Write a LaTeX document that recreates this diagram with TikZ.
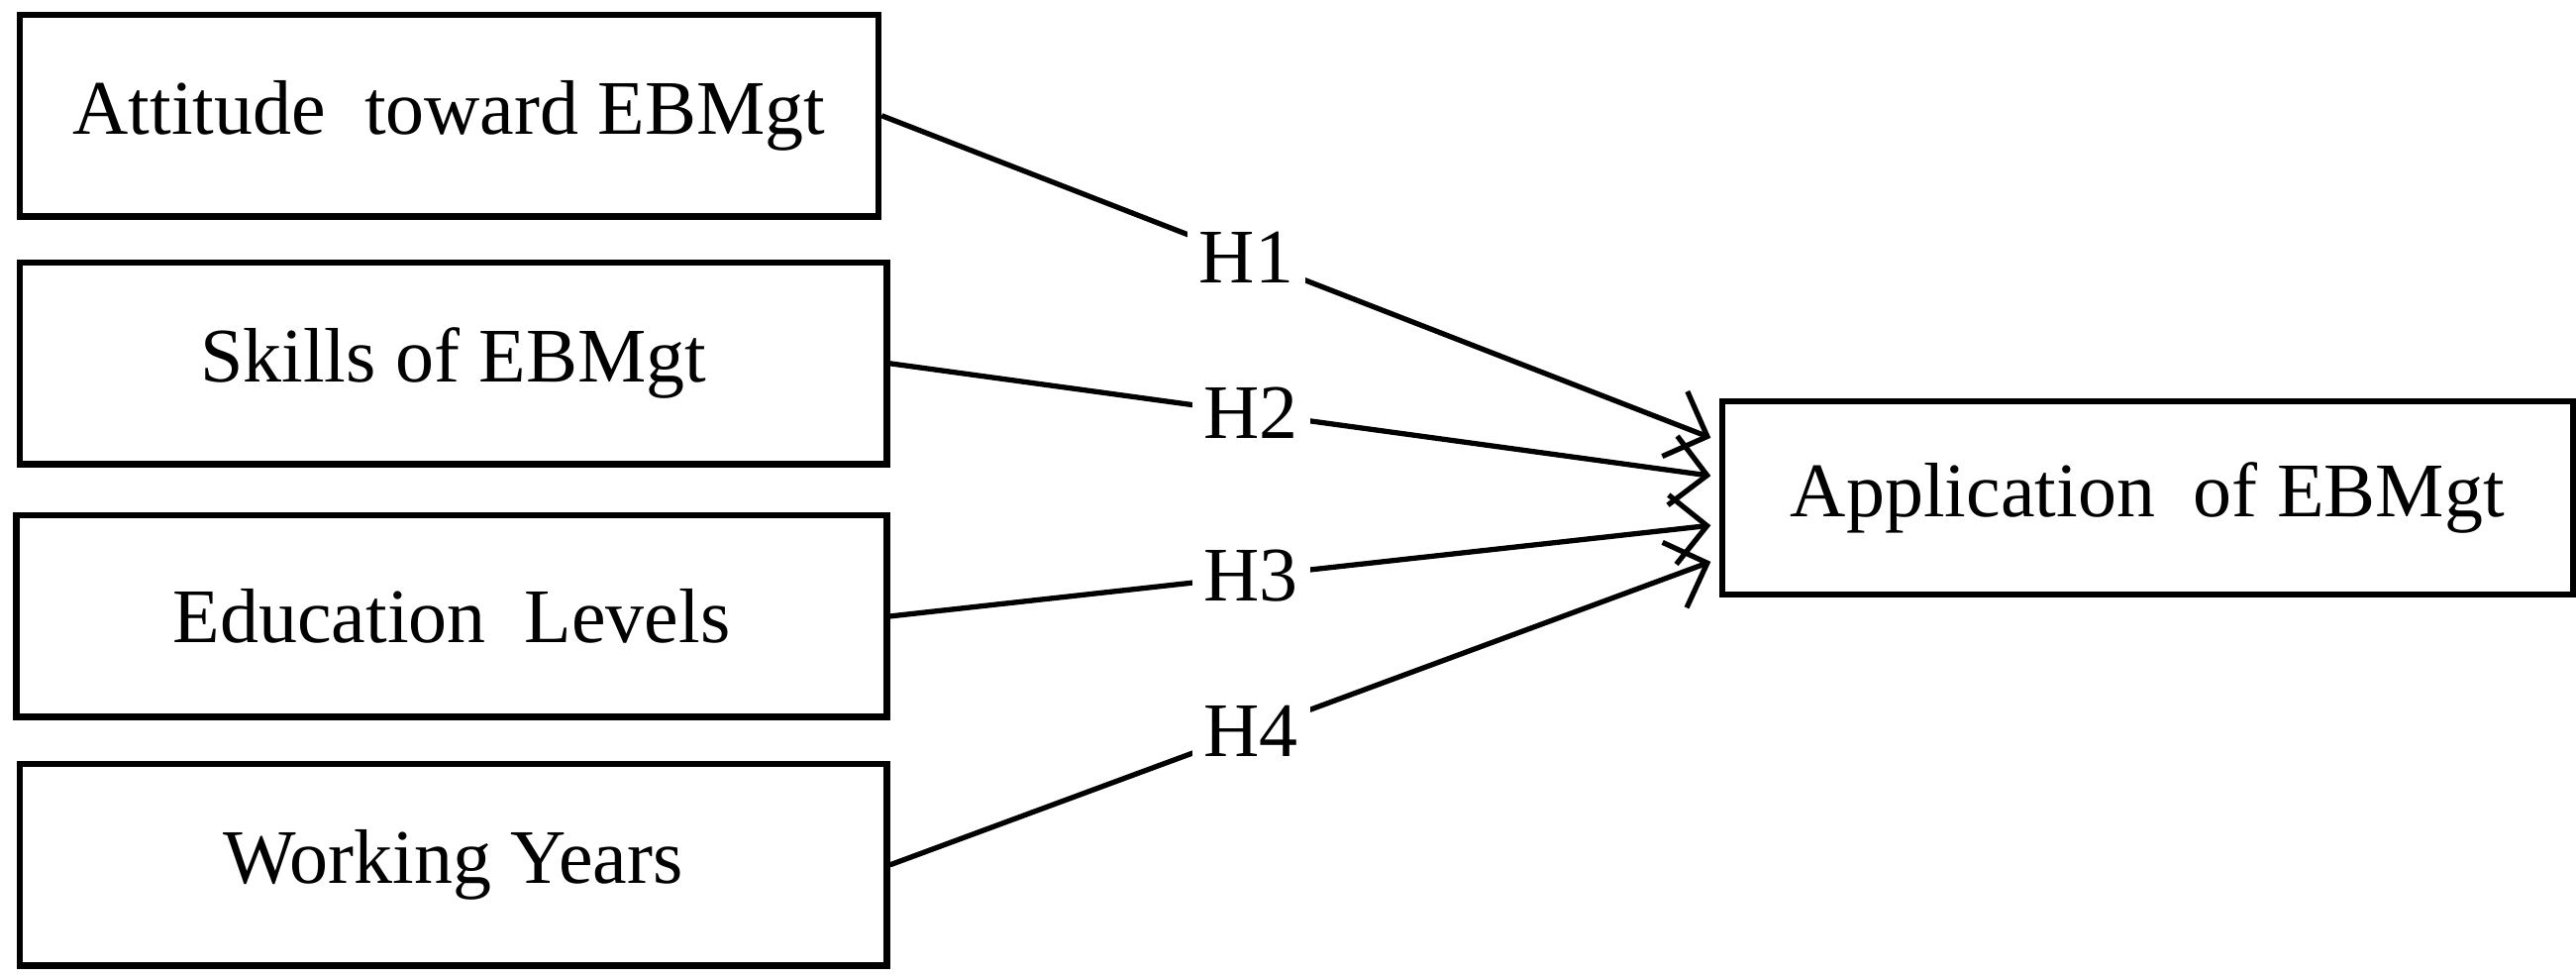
\documentclass[tikz,border=0pt]{standalone}
\usepackage{fontspec}
\setmainfont{Liberation Serif}
\usetikzlibrary{arrows.meta}
\tikzset{
  box/.style={draw, line width=1.1pt, minimum height=1.22cm, inner sep=0pt, font=\fontsize{13.3}{16}\selectfont},
  link/.style={line width=0.9pt, -{Straight Barb[length=6pt,width=12pt,line width=0.9pt]}},
  hyp/.style={fill=white, inner sep=2pt, font=\fontsize{13.3}{16}\selectfont}
}
\begin{document}
\begin{tikzpicture}
  \useasboundingbox (0,0) rectangle (15.6,5.91);
  \node[box, minimum width=5.2cm] (att) at (2.72,5.21) {Attitude\ \ toward EBMgt};
  \node[box, minimum width=5.25cm] (skl) at (2.745,3.71) {Skills of EBMgt};
  \node[box, minimum width=5.27cm] (edu) at (2.735,2.18) {Education\ \ Levels};
  \node[box, minimum width=5.25cm] (wrk) at (2.745,0.675) {Working Years};
  \node[box, minimum width=5.15cm, minimum height=1.17cm] (app) at (13.005,2.895) {Application\ \ of EBMgt};

  \coordinate (t1) at (10.36,3.26);
  \coordinate (t2) at (10.36,3.03);
  \coordinate (t3) at (10.36,2.73);
  \coordinate (t4) at (10.36,2.51);

  \draw[link] (att.east) -- node[hyp, pos=0.44] {H1} (t1);
  \draw[link] (skl.east) -- node[hyp, pos=0.44] {H2} (t2);
  \draw[link] (edu.east) -- node[hyp, pos=0.44] {H3} (t3);
  \draw[link] (wrk.east) -- node[hyp, pos=0.44] {H4} (t4);
\end{tikzpicture}
\end{document}
